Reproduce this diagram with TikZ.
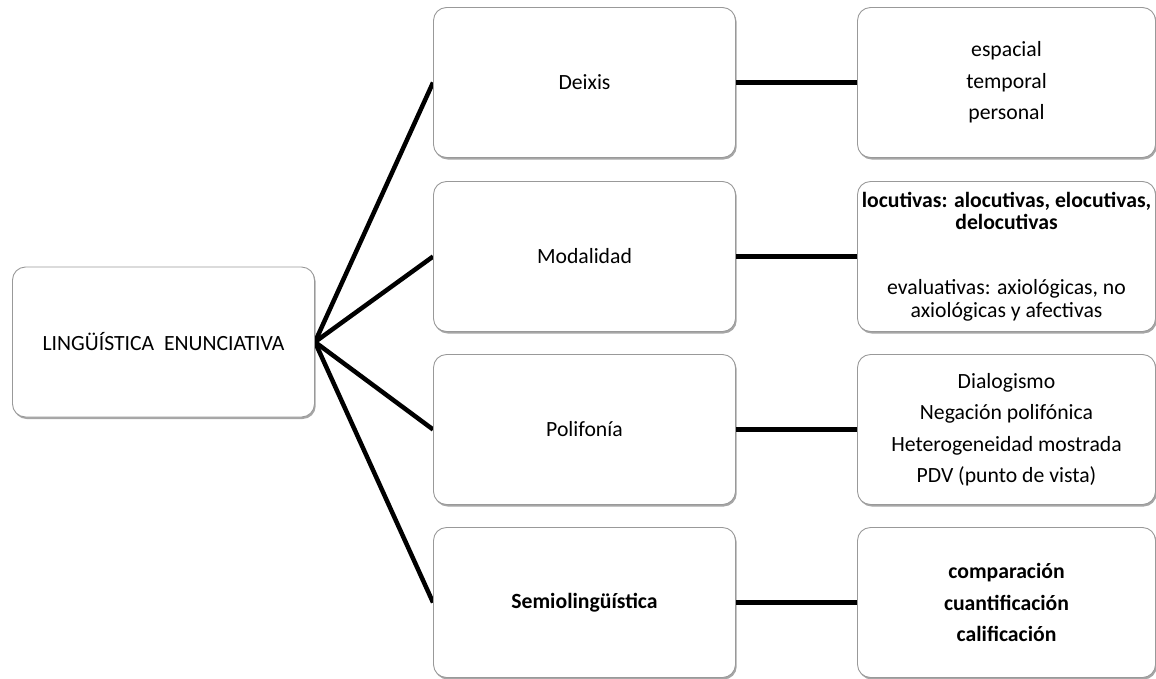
\documentclass[tikz,border=0pt]{standalone}
\usepackage{fontspec}
\setmainfont{Carlito}
\usetikzlibrary{shadows,backgrounds}

\tikzset{
  box/.style={rectangle, rounded corners=13pt, draw=black!40, line width=0.9pt,
    fill=white, inner sep=0pt, minimum width=#1, minimum height=150pt,
    align=center, font=\fontsize{21.7}{25}\selectfont,
    drop shadow={shadow xshift=1.2pt, shadow yshift=-2pt, fill=black, opacity=0.35}},
  box/.default=302pt,
  listbox/.style={box=298pt, font=\fontsize{21.7}{31.5}\selectfont},
  link/.style={line width=4.5pt, black}
}

\begin{document}
\begin{tikzpicture}[x=1pt, y=-1pt]
  \useasboundingbox (0,0) rectangle (1156,678);

  % root of the tree
  \node[box] (root) at (163.5,342) {LINGÜÍSTICA\ \ ENUNCIATIVA};

  % second level
  \node[box] (deixis) at (584.5,82.5) {Deixis};
  \node[box] (modal)  at (584.5,256.5) {Modalidad};
  \node[box] (polif)  at (584.5,429.5) {Polifonía};
  \node[box] (semio)  at (584.5,602.5) {\bfseries Semiolingüística};

  % third level
  \node[listbox] (deixisR) at (1006.5,82.5) {espacial\\temporal\\personal};
  \node[box=298pt, font=\fontsize{21.7}{22.7}\selectfont] (modalR) at (1006.5,256.5)
    {\textbf{locutivas: alocutivas, elocutivas,}\\\textbf{delocutivas}\\[42pt]
     evaluativas: axiológicas, no\\axiológicas y afectivas};
  \node[listbox] (polifR) at (1006.5,429.5)
    {Dialogismo\\Negación polifónica\\Heterogeneidad mostrada\\PDV (punto de vista)};
  \node[listbox, font=\fontsize{21.7}{31.5}\selectfont\bfseries] (semioR) at (1006.5,602.5)
    {comparación\\cuantificación\\calificación};

  % connectors
  \begin{pgfonlayer}{background}
    \draw[link] (root.east) -- (deixis.west);
    \draw[link] (root.east) -- (modal.west);
    \draw[link] (root.east) -- (polif.west);
    \draw[link] (root.east) -- (semio.west);
    \draw[link] (deixis.east) -- (deixisR.west);
    \draw[link] (modal.east) -- (modalR.west);
    \draw[link] (polif.east) -- (polifR.west);
    \draw[link] (semio.east) -- (semioR.west);
  \end{pgfonlayer}
\end{tikzpicture}
\end{document}
